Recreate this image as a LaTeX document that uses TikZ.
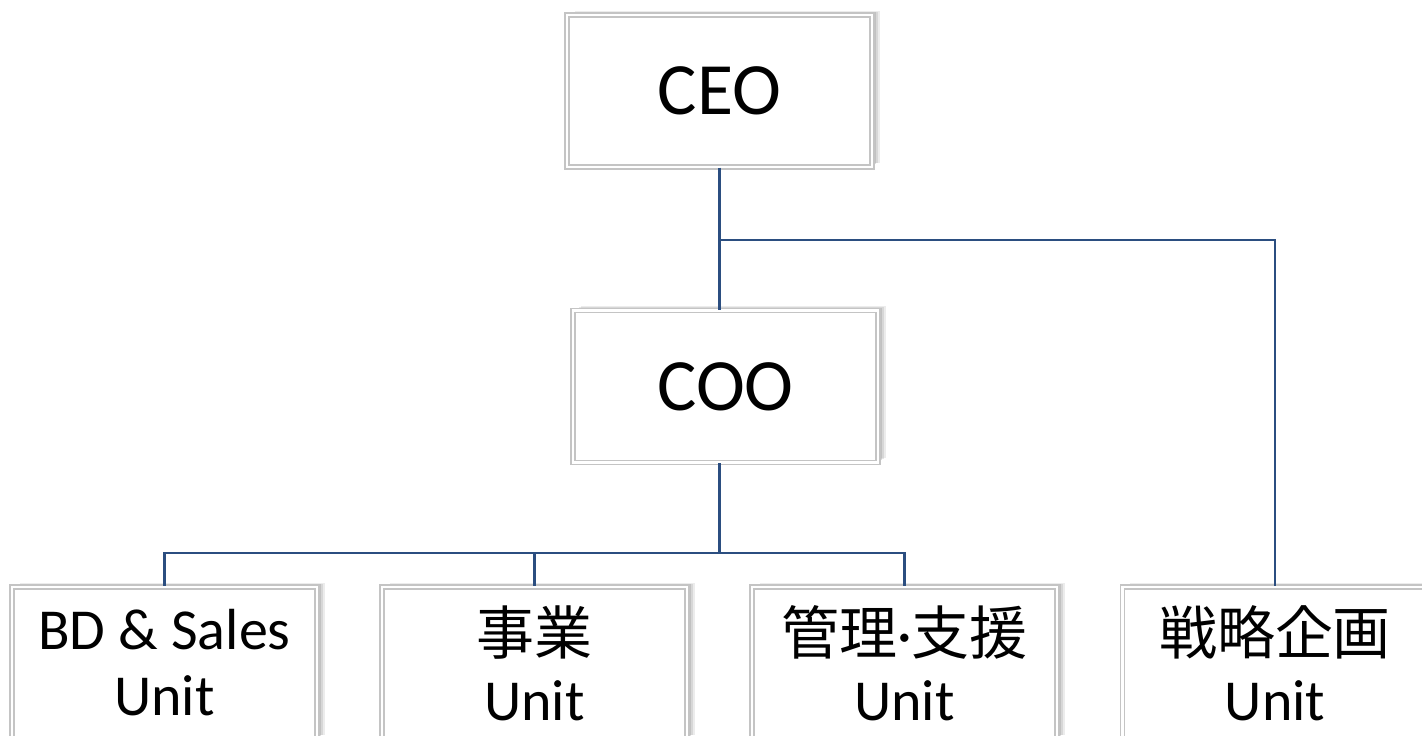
\documentclass[tikz,border=0pt]{standalone}
\usepackage{fontspec}
\setmainfont{Carlito}
\newfontfamily\cjk{Noto Sans CJK JP}
\usetikzlibrary{shadows}
\definecolor{linkblue}{HTML}{2B4E80}
\definecolor{boxgray}{HTML}{C4C4C4}

\begin{document}
\begin{tikzpicture}[x=0.02cm, y=-0.02cm,
        box/.style={draw=boxgray, line width=0.8pt, double=white, double distance=1.6pt, fill=white,
            minimum width=6.1cm, minimum height=3.04cm, inner sep=0pt, align=center,
            drop shadow={shadow xshift=4.5pt, shadow yshift=2.5pt, opacity=0.15},
            drop shadow={shadow xshift=3.5pt, shadow yshift=2pt, opacity=0.2},
            drop shadow={shadow xshift=2.5pt, shadow yshift=1.5pt, opacity=0.25},
            drop shadow={shadow xshift=1.5pt, shadow yshift=1pt, opacity=0.3}},
        big/.style={font=\fontsize{42}{48}\selectfont},
        small/.style={font=\fontsize{33}{37.5}\selectfont},
        link/.style={draw=linkblue, line width=1.4pt}]
        \useasboundingbox (0,0) rectangle (1422,735);
        \node[box, big] (ceo) at (719.5,91) {CEO};
        \node[box, big] (coo) at (725.5,386.5) {COO};
        \node[box, small] (bd) at (164.5,663) {BD \& Sales\\Unit};
        \node[box, small] (biz) at (534.5,663) {{\cjk 事業}\\Unit};
        \node[box, small] (adm) at (904.5,663) {{\cjk 管理}·{\cjk 支援}\\Unit};
        \node[box, small] (str) at (1275,663) {{\cjk 戦略企画}\\Unit};
        \coordinate (ceojoin) at (719.5,240);
        \coordinate (coojoin) at (719.5,553);
        \draw[link] (ceo.south) -- (ceo.south |- coo.north);
        \draw[link] (ceojoin) -| (str.north);
        \draw[link] (ceo.south |- coo.south) -- (coojoin);
        \foreach \u in {bd, biz, adm}
            \draw[link] (coojoin) -| (\u.north);
    \end{tikzpicture}
\end{document}
